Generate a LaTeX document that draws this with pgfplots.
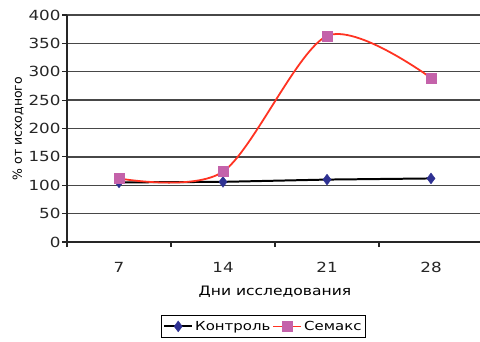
\documentclass[border=0pt]{standalone}
\usepackage{fontspec}
\setmainfont{DejaVu Sans}[FakeStretch=1.2]
\newfontfamily\ylabfont{DejaVu Sans}
\usepackage{pgfplots}
\pgfplotsset{compat=1.18}
\definecolor{ctrl}{HTML}{2E3192}
\definecolor{smx}{HTML}{C462AA}
\definecolor{smxline}{HTML}{FF3322}
\begin{document}
\begin{tikzpicture}[x=1bp,y=1bp]
\path[use as bounding box] (0,0) rectangle (480,341);
\begin{axis}[
  at={(67bp,99bp)}, anchor=south west,
  scale only axis, width=416bp, height=227bp,
  xmin=-0.5, xmax=3.5, ymin=0, ymax=400,
  ytick={0,50,...,400},
  xtick={-0.5,0.5,1.5,2.5,3.5},
  x tick label as interval,
  xticklabels={7,14,21,28},
  axis x line*=bottom, axis y line*=left,
  axis line style={black!85, line width=1.4pt, -},
  tick align=outside, major tick length=5bp,
  tick style={black!85, line width=1.2pt},
  ymajorgrids, grid style={black!72, line width=1.4pt},
  /pgf/number format/assume math mode=true,
  ticklabel style={font=\fontsize{14}{16}\selectfont, text=black!85},
  x tick label style={yshift=-12bp},
  y tick label style={xshift=2bp},
  xlabel={Дни исследования},
  xlabel style={font=\fontsize{13}{15}\selectfont, yshift=-6bp},
  ylabel={\ylabfont\% от исходного},
  ylabel style={font=\fontsize{12.5}{14}\selectfont, yshift=-2bp},
  clip=false,
  legend columns=2,
  legend style={at={(0.472,-0.372)}, anchor=center, draw=black, line width=0.8pt,
    font=\fontsize{12.5}{15}\selectfont, inner xsep=2bp, inner ysep=3.5bp,
    /tikz/every even column/.append style={column sep=0bp}},
  legend image code/.code={\draw[mark repeat=2,mark phase=2] plot coordinates {(0bp,0bp) (14bp,0bp) (28bp,0bp)};},
]
\addplot[black, line width=2pt, mark=diamond*, mark size=5.5bp, mark options={draw=ctrl, fill=ctrl, line width=0.3pt}]
  coordinates {(0,105) (1,106) (2,110) (3,112)};
\addlegendentry{Контроль}
\addplot[smxline, line width=1.8pt, smooth, tension=0.5, mark=square*, mark size=5bp, mark options={draw=smx, fill=smx, line width=0.3pt}]
  coordinates {(0,112) (1,124) (2,363) (3,289)};
\addlegendentry{Семакс}
\end{axis}
\end{tikzpicture}
\end{document}
